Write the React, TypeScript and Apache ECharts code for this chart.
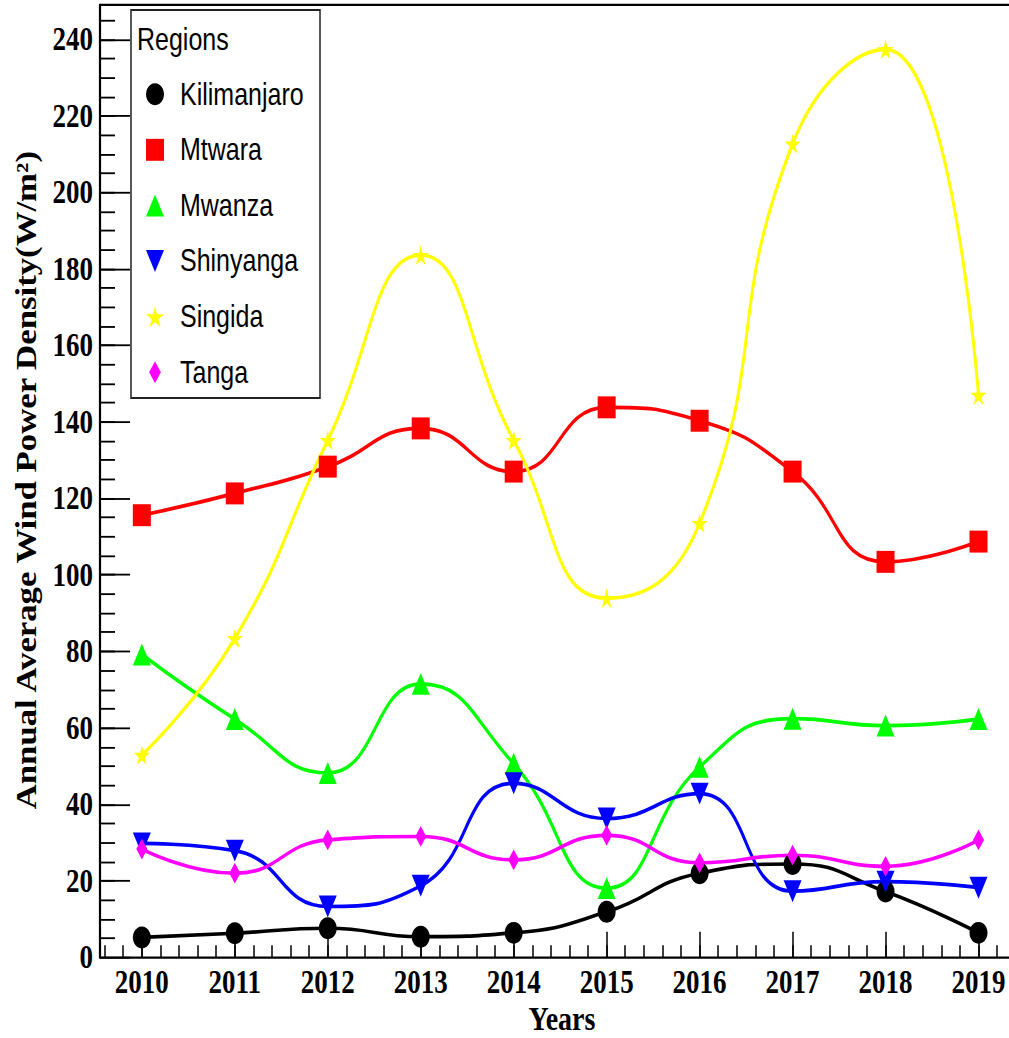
import React, { useEffect, useRef } from "react";
import * as echarts from "echarts";

// Annual average wind power density per region, 2010–2019 (W/m²)
const years = [2010, 2011, 2012, 2013, 2014, 2015, 2016, 2017, 2018, 2019];
const kilimanjaro = [5.2, 6.3, 7.6, 5.4, 6.4, 11.9, 22.0, 24.4, 17.2, 6.4];
const mtwara = [115.6, 121.3, 128.3, 138.3, 127.0, 143.8, 140.3, 127.0, 103.4, 108.7];
const mwanza = [79.2, 62.3, 48.2, 71.5, 50.6, 18.1, 49.8, 62.4, 60.6, 62.3];
const shinyanga = [29.8, 27.9, 13.3, 18.7, 45.5, 36.3, 42.8, 17.3, 19.8, 18.2];
const singida = [52.9, 83.4, 135.2, 183.6, 135.2, 93.9, 113.5, 212.7, 237.4, 147.0];
const tanga = [28.3, 22.0, 30.7, 31.6, 25.5, 31.9, 24.7, 26.7, 23.8, 30.7];

const yMajorTicks = [0, 20, 40, 60, 80, 100, 120, 140, 160, 180, 200, 220, 240];

const SERIF = "'Liberation Serif', 'Times New Roman', serif";
const SANS = "'Liberation Sans', Arial, sans-serif";

const STAR = "path://M50,0 L61,35 L98,35 L68,57 L79,91 L50,70 L21,91 L32,57 L2,35 L39,35 Z";
const DOWN_TRIANGLE = "path://M0,0 L10,0 L5,10 Z";
const SLIM_DIAMOND = "path://M6.5,0 L13,10 L6.5,20 L0,10 Z";

// the plot is drawn at 1009x851 and stretched vertically
const STRETCH = 1.22;
const W = 1009;
const H = 851;

const regions = [
  { name: "Kilimanjaro", values: kilimanjaro, color: "#000000", symbol: "circle", size: 18, icon: "circle" },
  { name: "Mtwara", values: mtwara, color: "#ff0000", symbol: "rect", size: 18, icon: "rect" },
  { name: "Mwanza", values: mwanza, color: "#00ff00", symbol: "triangle", size: 18, icon: "triangle" },
  { name: "Shinyanga", values: shinyanga, color: "#0000ff", symbol: DOWN_TRIANGLE, size: 18, icon: DOWN_TRIANGLE },
  { name: "Singida", values: singida, color: "#ffff00", symbol: STAR, size: 16, icon: STAR },
  { name: "Tanga", values: tanga, color: "#ff00ff", symbol: "diamond", size: [11, 17], icon: SLIM_DIAMOND },
];

function minorValues(from: number, to: number, step: number): number[] {
  const out: number[] = [];
  const n = Math.round((to - from) / step);
  for (let i = 0; i <= n; i++) out.push(Math.round((from + i * step) * 100) / 100);
  return out;
}

export default function App() {
  const ref = useRef<HTMLDivElement>(null);

  useEffect(() => {
    if (!ref.current) return;
    const chart = echarts.init(ref.current, null, { renderer: "svg" });

    const xMin = 2009.55;
    const xMax = 2019.328;
    const axisColor = "#000";

    const option: any = {
      animation: false,
      backgroundColor: "#ffffff",
      grid: { left: 100, right: 0, top: 4.1, bottom: 66.3, containLabel: false },
      xAxis: [
        {
          type: "value",
          min: xMin,
          max: xMax,
          position: "bottom",
          axisLine: { show: true, onZero: false, lineStyle: { color: axisColor, width: 1.8 } },
          axisTick: {
            show: true,
            inside: true,
            length: 21,
            customValues: years,
            lineStyle: { color: axisColor, width: 1.5 },
          },
          axisLabel: {
            show: true,
            customValues: years,
            margin: 7,
            formatter: (v: number) => String(v),
            fontFamily: SERIF,
            fontWeight: "bold",
            fontSize: 27,
            color: "#000",
          },
          splitLine: { show: false },
        },
        {
          type: "value",
          min: xMin,
          max: xMax,
          position: "bottom",
          axisLine: { show: false, onZero: false },
          axisTick: {
            show: true,
            inside: true,
            length: 10,
            customValues: minorValues(2009.6, 2019.2, 0.2),
            lineStyle: { color: axisColor, width: 1.5 },
          },
          axisLabel: { show: false },
          splitLine: { show: false },
        },
        {
          type: "value",
          min: xMin,
          max: xMax,
          position: "top",
          axisLine: { show: true, onZero: false, lineStyle: { color: axisColor, width: 2 } },
          axisTick: { show: false },
          axisLabel: { show: false },
          splitLine: { show: false },
        },
      ],
      yAxis: [
        {
          type: "value",
          min: 0,
          max: 249,
          position: "left",
          axisLine: { show: true, onZero: false, lineStyle: { color: axisColor, width: 2.2 } },
          axisTick: {
            show: true,
            inside: true,
            length: 30,
            customValues: yMajorTicks,
            lineStyle: { color: axisColor, width: 1.5 },
          },
          axisLabel: {
            show: true,
            customValues: yMajorTicks,
            margin: 7,
            formatter: (v: number) => String(v),
            fontFamily: SERIF,
            fontWeight: "bold",
            fontSize: 27,
            color: "#000",
          },
          splitLine: { show: false },
        },
        {
          type: "value",
          min: 0,
          max: 249,
          position: "left",
          offset: 0,
          axisLine: { show: false, onZero: false },
          axisTick: {
            show: true,
            inside: true,
            length: 15,
            customValues: minorValues(5, 245, 5),
            lineStyle: { color: axisColor, width: 1.5 },
          },
          axisLabel: { show: false },
          splitLine: { show: false },
        },
      ],
      legend: {
        orient: "vertical",
        left: 141,
        top: 59.2,
        itemWidth: 18,
        itemHeight: 18,
        itemGap: 19.6,
        selectedMode: false,
        z: 10,
        textStyle: {
          fontFamily: SANS,
          fontSize: 25,
          lineHeight: 26,
          color: "#000",
          padding: [0, 0, 0, 11],
        },
        data: regions.map((r) => ({ name: r.name, icon: r.icon })),
      },
      graphic: [
        {
          type: "rect",
          z: 5,
          shape: { x: 131, y: 8.2, width: 189, height: 318 },
          style: { fill: "#ffffff", stroke: "#222", lineWidth: 1.5 },
        },
        {
          type: "text",
          z: 6,
          x: 137,
          y: 32.8,
          style: {
            text: "Regions",
            font: `25px ${SANS}`,
            fill: "#000",
            textAlign: "left",
            align: "left",
            textVerticalAlign: "middle",
            verticalAlign: "middle",
          },
        },
        {
          type: "text",
          z: 6,
          x: 27,
          y: 393.6,
          rotation: Math.PI / 2,
          style: {
            text: "Annual Average Wind Power Density(W/m²)",
            font: `bold 28.5px ${SERIF}`,
            fill: "#000",
            textAlign: "center",
            align: "center",
            textVerticalAlign: "middle",
            verticalAlign: "middle",
          },
        },
        {
          type: "text",
          z: 6,
          x: 562,
          y: 835,
          style: {
            text: "Years",
            font: `bold 28px ${SERIF}`,
            fill: "#000",
            textAlign: "center",
            align: "center",
            textVerticalAlign: "middle",
            verticalAlign: "middle",
          },
        },
      ],
      series: regions.map((r) => ({
        name: r.name,
        type: "line",
        xAxisIndex: 0,
        yAxisIndex: 0,
        smooth: 0.5,
        data: years.map((y, i) => [y, r.values[i]]),
        symbol: r.symbol,
        symbolSize: r.size,
        showSymbol: true,
        lineStyle: { color: r.color, width: 3 },
        itemStyle: { color: r.color, borderWidth: 0 },
        emphasis: { disabled: true },
      })),
    };

    chart.setOption(option);
    return () => chart.dispose();
  }, []);

  return (
    <div
      ref={ref}
      style={{
        position: "absolute",
        left: 0,
        top: 0,
        width: W,
        height: H,
        transform: `scaleY(${STRETCH})`,
        transformOrigin: "0 0",
      }}
    />
  );
}
